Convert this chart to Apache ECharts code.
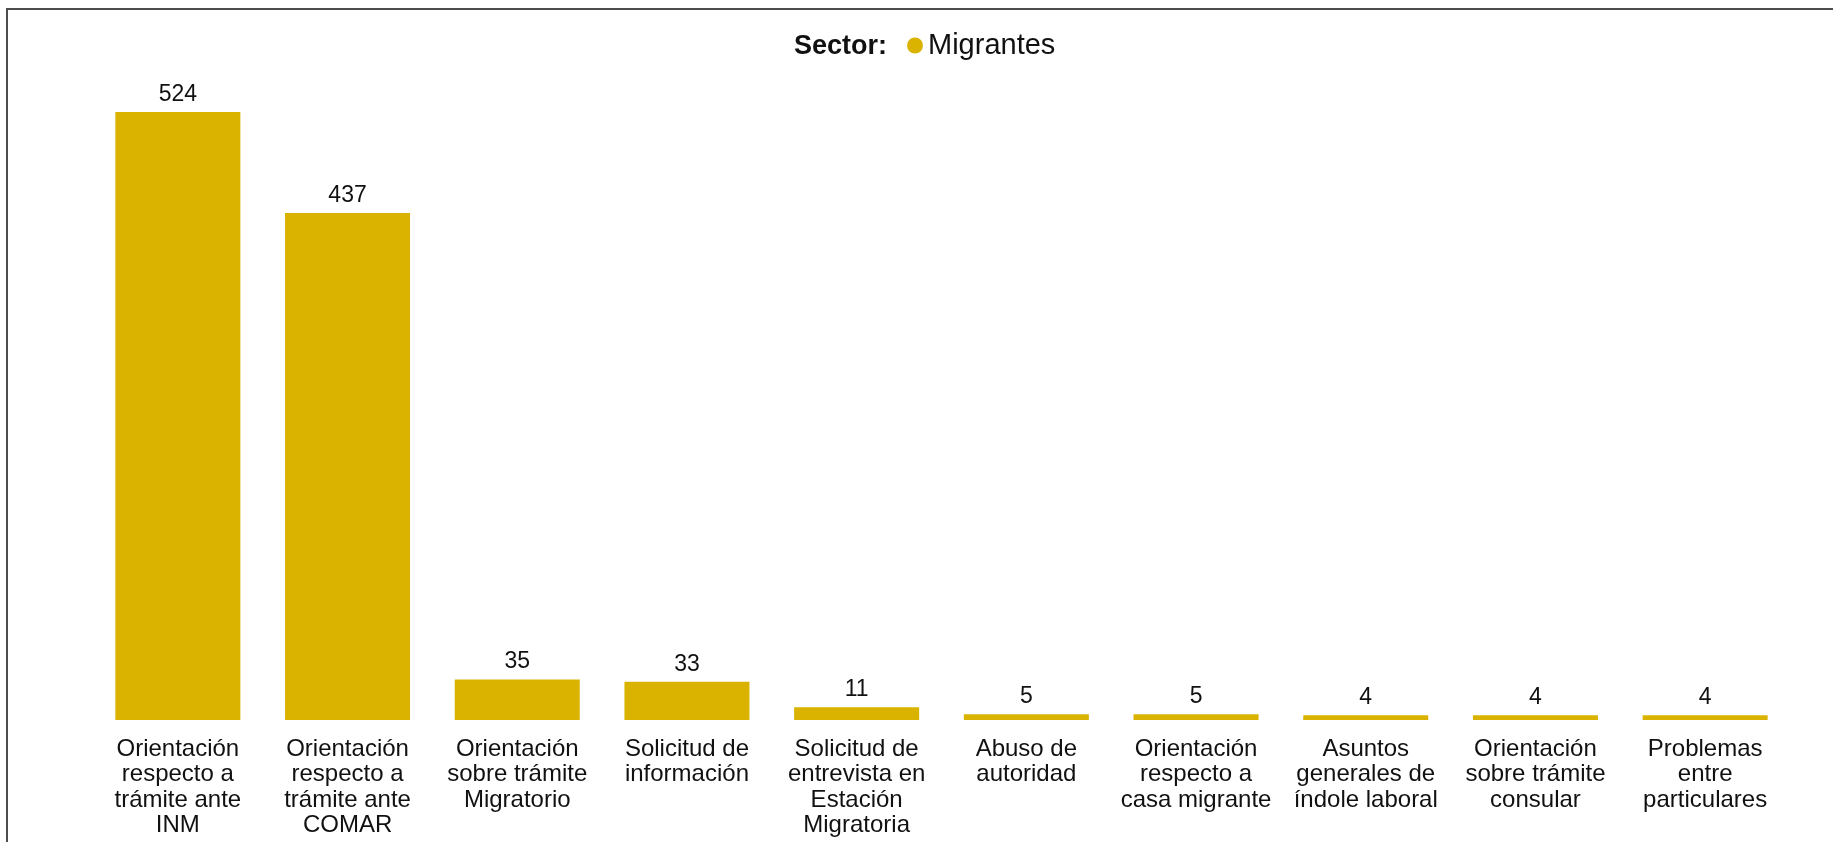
<!DOCTYPE html>
<html>
<head>
<meta charset="utf-8">
<script src="https://cdn.jsdelivr.net/npm/echarts@6/dist/echarts.min.js"></script>
<style>
html,body{margin:0;padding:0;background:#fff;}
#c{width:1833px;height:842px;}
</style>
</head>
<body>
<div id="c"></div>
<script>
const categories = [
  "Orientación\nrespecto a\ntrámite ante\nINM",
  "Orientación\nrespecto a\ntrámite ante\nCOMAR",
  "Orientación\nsobre trámite\nMigratorio",
  "Solicitud de\ninformación",
  "Solicitud de\nentrevista en\nEstación\nMigratoria",
  "Abuso de\nautoridad",
  "Orientación\nrespecto a\ncasa migrante",
  "Asuntos\ngenerales de\níndole laboral",
  "Orientación\nsobre trámite\nconsular",
  "Problemas\nentre\nparticulares"
];
const values = [524, 437, 35, 33, 11, 5, 5, 4, 4, 4];
const seriesName = "Migrantes";
const legendTitle = "Sector:";

const chart = echarts.init(document.getElementById('c'));
const font = "'Liberation Sans', Arial, sans-serif";
chart.setOption({
  animation: false,
  graphic: [{
    type: 'polyline',
    shape: {points: [[7, 842], [7, 9], [1833, 9]]},
    style: {stroke: '#4d4d4d', lineWidth: 2, fill: null}
  }],
  title: {
    text: legendTitle,
    left: 794,
    top: 33,
    padding: 0,
    textStyle: {fontFamily: font, fontSize: 27, fontWeight: 'bold', color: '#111'}
  },
  legend: {
    data: [seriesName],
    left: 907,
    top: 31,
    padding: 0,
    icon: 'circle',
    itemWidth: 16,
    itemHeight: 16,
    textStyle: {fontFamily: font, fontSize: 29, color: '#111'}
  },
  grid: {left: 93, right: 43, top: 112, bottom: 122, containLabel: false},
  xAxis: {
    type: 'category',
    data: categories,
    axisLine: {show: false},
    axisTick: {show: false},
    axisLabel: {
      interval: 0,
      margin: 17,
      fontFamily: font,
      fontSize: 24,
      lineHeight: 25.2,
      color: '#111',
      align: 'center'
    }
  },
  yAxis: {
    type: 'value',
    min: 0,
    max: 524,
    show: false,
    splitLine: {show: false}
  },
  series: [{
    name: seriesName,
    type: 'bar',
    data: values,
    barWidth: 125,
    itemStyle: {color: '#D9B300'},
    label: {
      show: true,
      position: 'top',
      distance: 6,
      fontFamily: font,
      fontSize: 23,
      color: '#111'
    }
  }]
});
</script>
</body>
</html>
